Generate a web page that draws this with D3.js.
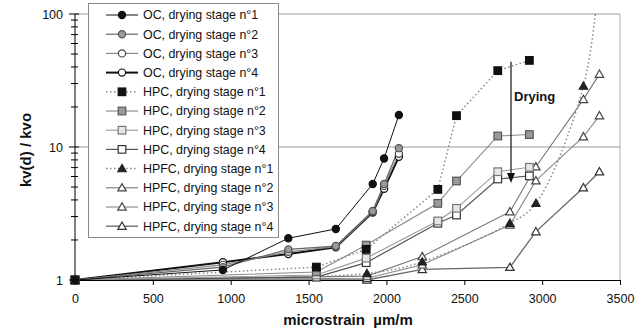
<!DOCTYPE html>
<html><head><meta charset="utf-8">
<script src="https://cdn.jsdelivr.net/npm/d3@7"></script>
<style>
html,body{margin:0;padding:0;background:#fff;}
svg{display:block;font-family:"Liberation Sans",Arial,sans-serif;}
</style></head>
<body>
<svg id="c" width="644" height="332"></svg>
<script>
// ---- data ----
const xTicks = [0, 500, 1000, 1500, 2000, 2500, 3000, 3500];
const yTicks = [1, 10, 100];
const yTickLabels = ["1", "10", "100"];

const ocX   = [0, 950, 1370, 1675, 1912, 1985, 2080];
const oc1   = [1, 1.19, 2.06, 2.42, 5.27, 8.2, 17.4];
const oc2   = [1, 1.25, 1.70, 1.80, 3.30, 5.27, 9.8];
const oc3   = [1, 1.30, 1.63, 1.78, 3.25, 5.10, 8.9];
const oc4   = [1, 1.36, 1.57, 1.76, 3.22, 4.85, 8.45];

const hpcX  = [0, 1550, 1870, 2330, 2450, 2715, 2918];
const hpc1  = [1, 1.25, 1.70, 4.8, 17.2, 37.5, 44.8];
const hpc2  = [1, 1.15, 1.83, 3.77, 5.55, 12.1, 12.4];
const hpc3  = [1, 1.09, 1.46, 2.78, 3.46, 6.52, 7.04];
const hpc4  = [1, 1.05, 1.35, 2.67, 3.08, 5.75, 6.06];

const hpfcX = [0, 1875, 2230, 2793, 2960, 3265, 3368];
const hpfc1 = [1, 1.12, 1.37, 2.67, 3.77, 28.7, 200];
const hpfc2 = [1, 1.07, 1.50, 3.26, 7.1, 22.8, 35.3];
const hpfc3 = [1, 1.03, 1.30, 2.59, 5.58, 11.95, 17.2];
const hpfc4 = [1, 1.00, 1.20, 1.246, 2.31, 4.94, 6.52];

const seriesNames = [
  "OC, drying stage n°1","OC, drying stage n°2","OC, drying stage n°3","OC, drying stage n°4",
  "HPC, drying stage n°1","HPC, drying stage n°2","HPC, drying stage n°3","HPC, drying stage n°4",
  "HPFC, drying stage n°1","HPFC, drying stage n°2","HPFC, drying stage n°3","HPFC, drying stage n°4"
];
const arrowX = 2800, arrowTop = 43.8, arrowTip = 5.36;
const arrowLabel = "Drying";
const xTitle = "microstrain  µm/m";
const yTitle = "kv(d) / kvo";

// ---- styles ----
const styles = [
  {x: ocX, y: oc1, shape: "circle", fill: "#111", stroke: "#111", line: "#111", lw: 1, dash: null},
  {x: ocX, y: oc2, shape: "circle", fill: "#9a9a9a", stroke: "#555", line: "#666", lw: 1.2, dash: null},
  {x: ocX, y: oc3, shape: "circle", fill: "#fff", stroke: "#444", line: "#888", lw: 1.2, dash: null},
  {x: ocX, y: oc4, shape: "circle", fill: "#fff", stroke: "#111", line: "#111", lw: 2, dash: null},
  {x: hpcX, y: hpc1, shape: "square", fill: "#111", stroke: "#111", line: "#888", lw: 1.5, dash: "1.5,2.5", smooth: false},
  {x: hpcX, y: hpc2, shape: "square", fill: "#9a9a9a", stroke: "#555", line: "#888", lw: 1.1, dash: null},
  {x: hpcX, y: hpc3, shape: "square", fill: "#e6e6e6", stroke: "#777", line: "#999", lw: 1.1, dash: null},
  {x: hpcX, y: hpc4, shape: "square", fill: "#fff", stroke: "#333", line: "#555", lw: 1.2, dash: null},
  {x: hpfcX, y: hpfc1, shape: "triangle", fill: "#222", stroke: "#222", line: "#888", lw: 1.5, dash: "1.5,2.5", smooth: true},
  {x: hpfcX, y: hpfc2, shape: "triangle", fill: "#fff", stroke: "#444", line: "#777", lw: 1.1, dash: null},
  {x: hpfcX, y: hpfc3, shape: "triangle", fill: "#fff", stroke: "#444", line: "#888", lw: 1.1, dash: null},
  {x: hpfcX, y: hpfc4, shape: "triangle", fill: "#fff", stroke: "#333", line: "#666", lw: 1.3, dash: null}
];

const W = 644, H = 332;
const L = 75, R = 620, T = 14, B = 280;
const svg = d3.select("#c");
const x = d3.scaleLinear().domain([0, 3500]).range([L, R]);
const y = d3.scaleLog().domain([1, 100]).range([B, T]);

// grid / frame
svg.append("g").selectAll("line").data(yTicks.slice(1)).join("line")
  .attr("x1", L).attr("x2", R).attr("y1", d => y(d)).attr("y2", d => y(d))
  .attr("stroke", "#9a9a9a").attr("stroke-width", 1);
svg.append("line").attr("x1", R).attr("x2", R).attr("y1", T).attr("y2", B)
  .attr("stroke", "#b0b0b0").attr("stroke-width", 1);

// y axis with log minor ticks
const ya = svg.append("g");
ya.append("line").attr("x1", L).attr("x2", L).attr("y1", T).attr("y2", B).attr("stroke", "#000");
const minor = [];
[1, 10].forEach(dec => { for (let k = 2; k <= 9; k++) minor.push(dec * k); });
ya.selectAll(".mn").data(minor).join("line")
  .attr("x1", L - 4).attr("x2", L + 3).attr("y1", d => y(d)).attr("y2", d => y(d))
  .attr("stroke", "#000").attr("stroke-width", 1);
ya.selectAll(".mj").data(yTicks).join("line")
  .attr("x1", L - 6).attr("x2", L + 4).attr("y1", d => y(d)).attr("y2", d => y(d))
  .attr("stroke", "#000").attr("stroke-width", 1);
ya.selectAll("text").data(yTicks).join("text")
  .attr("x", L - 12).attr("y", d => y(d)).attr("dy", "0.36em")
  .attr("text-anchor", "end").attr("font-size", 12.5).attr("fill", "#111")
  .text((d, i) => yTickLabels[i]);

// x axis
const xa = svg.append("g").attr("transform", `translate(0,${B})`)
  .call(d3.axisBottom(x).tickValues(xTicks).tickSize(5).tickPadding(9).tickFormat(d3.format("d")));
xa.select(".domain").attr("stroke", "#000");
xa.selectAll("text").attr("font-size", 12.5).attr("fill", "#111")
  .attr("font-family", "'Liberation Sans',Arial,sans-serif");

// titles
svg.append("text").attr("x", 348).attr("y", 325).attr("text-anchor", "middle")
  .attr("font-size", 15).attr("font-weight", "bold").attr("fill", "#111")
  .style("white-space", "pre").attr("xml:space", "preserve").text(xTitle);
svg.append("text").attr("transform", "translate(31,150) rotate(-90)").attr("text-anchor", "middle")
  .attr("font-size", 15).attr("font-weight", "bold").attr("fill", "#111").text(yTitle);

// clip
svg.append("clipPath").attr("id", "pc").append("rect")
  .attr("x", L).attr("y", T).attr("width", R - L).attr("height", B - T);

const plot = svg.append("g").attr("clip-path", "url(#pc)");
const marks = svg.append("g");

function drawMarker(g, s, cx, cy) {
  if (s.shape === "circle") {
    g.append("circle").attr("cx", cx).attr("cy", cy).attr("r", 3.6)
      .attr("fill", s.fill).attr("stroke", s.stroke).attr("stroke-width", 1.2);
  } else if (s.shape === "square") {
    g.append("rect").attr("x", cx - 3.8).attr("y", cy - 3.8).attr("width", 7.6).attr("height", 7.6)
      .attr("fill", s.fill).attr("stroke", s.stroke).attr("stroke-width", 1.2);
  } else {
    const h = 4.2;
    g.append("path").attr("d", `M${cx},${cy - h} L${cx + h},${cy + h * 0.75} L${cx - h},${cy + h * 0.75} Z`)
      .attr("fill", s.fill).attr("stroke", s.stroke).attr("stroke-width", 1.2);
  }
}

// lines (draw in reverse so stage 1 on top)
const order = [11,10,9,8,7,6,5,4,3,2,1,0];
order.forEach(i => {
  const s = styles[i];
  const pts = s.x.map((xv, j) => [x(xv), y(s.y[j])]);
  const gen = d3.line().curve(s.smooth ? d3.curveCatmullRom.alpha(0.5) : d3.curveLinear);
  plot.append("path").attr("d", gen(pts)).attr("fill", "none")
    .attr("stroke", s.line).attr("stroke-width", s.lw)
    .attr("stroke-dasharray", s.dash);
});
order.forEach(i => {
  const s = styles[i];
  const g = marks.append("g");
  s.x.forEach((xv, j) => {
    if (s.y[j] <= 100) drawMarker(g, s, x(xv), y(s.y[j]));
  });
});

// drying arrow
svg.append("line").attr("x1", x(arrowX)).attr("x2", x(arrowX))
  .attr("y1", y(arrowTop)).attr("y2", y(arrowTip) - 6).attr("stroke", "#111").attr("stroke-width", 1.2);
const ax = x(arrowX), at = y(arrowTip);
svg.append("path").attr("d", `M${ax},${at} L${ax - 4},${at - 10} L${ax + 4},${at - 10} Z`).attr("fill", "#111");
svg.append("text").attr("x", ax + 3).attr("y", y(arrowTop) + 35).attr("dy", "0.36em")
  .attr("font-size", 13).attr("font-weight", "bold").attr("fill", "#111").text(arrowLabel);

// legend
const lg = svg.append("g");
lg.append("rect").attr("x", 88.5).attr("y", 3.5).attr("width", 190).attr("height", 234)
  .attr("fill", "#fff").attr("stroke", "#8a8a8a").attr("stroke-width", 1);
seriesNames.forEach((name, i) => {
  const s = styles[i];
  const cy = 15 + i * 19.2;
  lg.append("line").attr("x1", 106).attr("x2", 138).attr("y1", cy).attr("y2", cy)
    .attr("stroke", s.line).attr("stroke-width", s.lw).attr("stroke-dasharray", s.dash);
  drawMarker(lg, s, 122, cy);
  lg.append("text").attr("x", 143).attr("y", cy).attr("dy", "0.36em")
    .attr("font-size", 12.4).attr("fill", "#111").text(name);
});
</script>
</body></html>
